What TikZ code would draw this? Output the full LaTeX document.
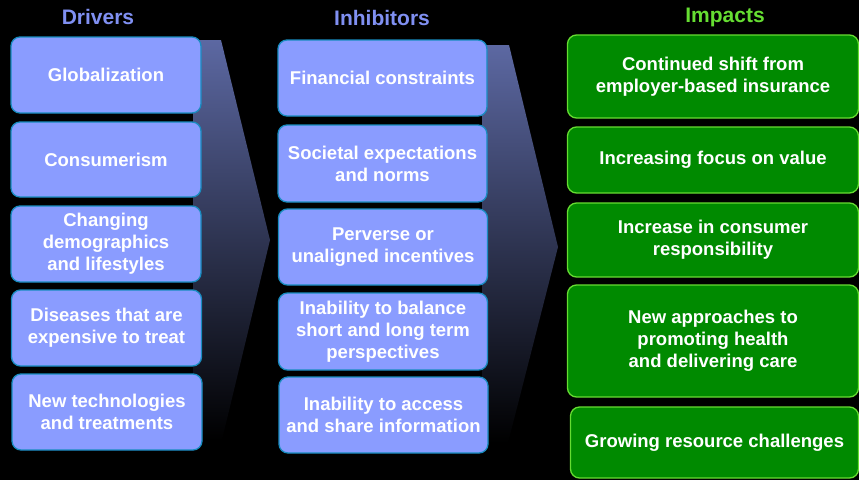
\documentclass[tikz,border=0pt]{standalone}
\usepackage{fontspec}
\setmainfont{Liberation Sans}
\definecolor{drvfill}{RGB}{138,156,255}
\definecolor{drvline}{RGB}{24,140,192}
\definecolor{impfill}{RGB}{0,138,0}
\definecolor{impline}{RGB}{102,220,50}
\definecolor{drvhead}{RGB}{128,144,242}
\definecolor{imphead}{RGB}{102,222,50}
\definecolor{chevtop}{RGB}{92,104,162}
\definecolor{chevmid}{RGB}{70,74,100}

\begin{document}
\begin{tikzpicture}[x=1pt,y=-1pt,
		box/.style={draw, line width=1.3pt, rounded corners=9pt, align=center, text=white,
			font=\fontsize{18.5}{22}\selectfont\bfseries, inner sep=0pt},
		drv/.style={box, fill=drvfill, draw=drvline, minimum width=190pt},
		inh/.style={box, fill=drvfill, draw=drvline, minimum width=209pt},
		imp/.style={box, fill=impfill, draw=impline},
		chev/.style={top color=chevtop, middle color=chevmid, bottom color=black},
		head/.style={font=\fontsize{21}{25}\selectfont\bfseries}]
		\fill [black] (0,0) rectangle (859,480);
		\useasboundingbox (0,0) rectangle (859,480);
		\shade [chev] (193,40) -- (221,40) -- (270,240) -- (222,440) -- (193,440) -- cycle;
		\shade [chev] (482,45) -- (509,45) -- (558,247) -- (508,443) -- (482,443) -- cycle;
		\node [head, text=drvhead] (hdrv) at (98,17) {Drivers};
		\node [head, text=drvhead] (hinh) at (382,18) {Inhibitors};
		\node [head, text=imphead] (himp) at (725,17) {Impacts};
		\node [drv, minimum height=76pt] (d1) at (106,75) {Globalization};
		\node [drv, minimum height=75pt] (d2) at (106,159.5) {Consumerism};
		\node [drv, minimum height=76pt] (d3) at (106,244) {Changing\\demographics\\and lifestyles};
		\node [drv, minimum height=76pt] (d4) at (106.5,328) {Diseases that are\\expensive to treat};
		\node [drv, minimum height=76pt] (d5) at (107,412) {New technologies\\and treatments};
		\node [inh, minimum height=76pt] (i1) at (382.5,78) {Financial constraints};
		\node [inh, minimum height=77pt] (i2) at (382.5,163.5) {Societal expectations\\and norms};
		\node [inh, minimum height=76pt] (i3) at (383,247) {Perverse or\\unaligned incentives};
		\node [inh, minimum height=77pt] (i4) at (383,331.5) {Inability to balance\\short and long term\\perspectives};
		\node [inh, minimum height=76pt] (i5) at (383.5,415) {Inability to access\\and share information};
		\node [imp, minimum width=291pt, minimum height=83pt] (m1) at (713,76.5) {Continued shift from\\employer-based insurance};
		\node [imp, minimum width=291pt, minimum height=66pt] (m2) at (713,160) {Increasing focus on value};
		\node [imp, minimum width=291pt, minimum height=74pt] (m3) at (713,240) {Increase in consumer\\responsibility};
		\node [imp, minimum width=291pt, minimum height=112pt] (m4) at (713,341) {New approaches to\\promoting health\\and delivering care};
		\node [imp, minimum width=288pt, minimum height=71pt] (m5) at (714.5,442.5) {Growing resource challenges};
	\end{tikzpicture}
\end{document}
